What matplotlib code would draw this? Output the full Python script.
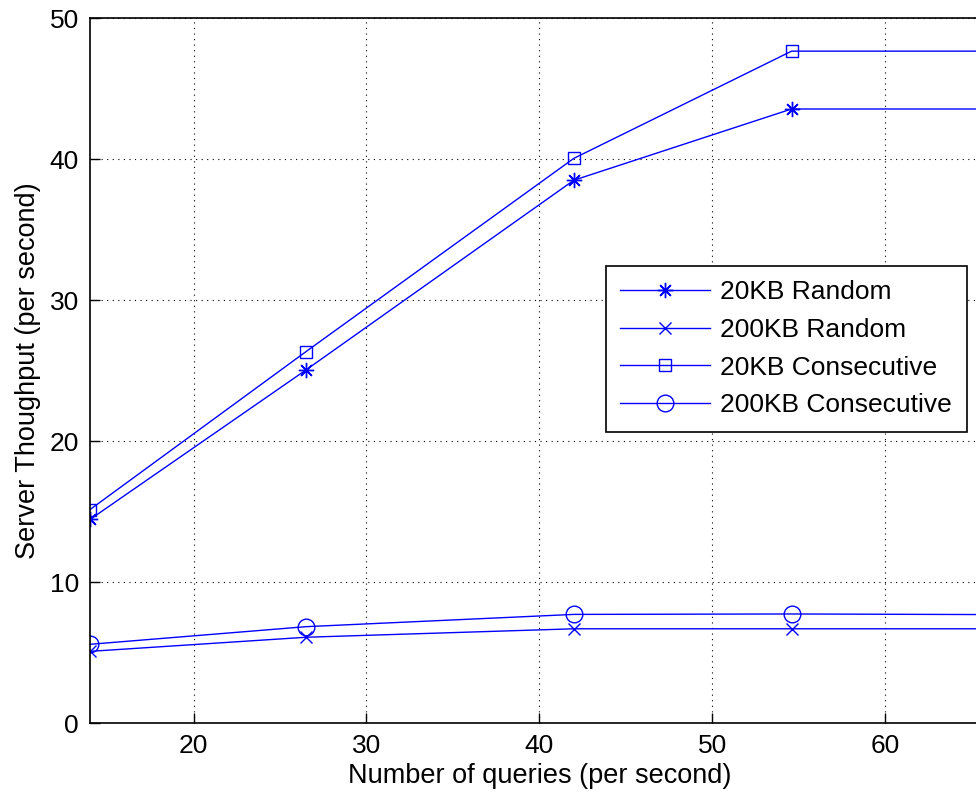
import matplotlib
matplotlib.use("Agg")
import matplotlib.pyplot as plt

plt.rcParams['font.family'] = ['Liberation Sans', 'DejaVu Sans']

# query rate (per second)
queries = [14.0, 26.5, 42.0, 54.6, 68.0]

# server throughput for each workload
random_20kb = [14.45, 25.05, 38.5, 43.55, 43.55]
random_200kb = [5.1, 6.1, 6.7, 6.7, 6.7]
consec_20kb = [15.15, 26.35, 40.05, 47.65, 47.65]
consec_200kb = [5.6, 6.85, 7.72, 7.75, 7.7]

labels = ['20KB Random', '200KB Random', '20KB Consecutive', '200KB Consecutive']

fig = plt.figure(figsize=(9.76, 7.97), dpi=100)
# right edge of the axes runs past the canvas
ax = fig.add_axes([90/976, 73.7/797, 967.7/976, 705.3/797])

blue = (0, 0, 1)
ax.plot(queries, random_20kb, color=blue, lw=1.0, marker=(8, 2, 0), ms=11,
        mew=1.0, label=labels[0])
ax.plot(queries, random_200kb, color=blue, lw=1.0, marker='x', ms=9,
        mew=1.0, label=labels[1])
ax.plot(queries, consec_20kb, color=blue, lw=1.0, marker='s', ms=9,
        mew=1.0, mfc='none', label=labels[2])
ax.plot(queries, consec_200kb, color=blue, lw=1.0, marker='o', ms=12,
        mew=1.0, mfc='none', label=labels[3])

ax.set_xlim(14, 70)
ax.set_ylim(0, 50)
ax.set_xticks([20, 30, 40, 50, 60, 70])
ax.set_xticklabels(['20', '30', '40', '50', '60', ''])
ax.set_yticks([0, 10, 20, 30, 40, 50])
ax.tick_params(direction='in', length=7, width=1, labelsize=19, pad=8)
ax.grid(True, color='black', linestyle=(0, (1, 4)), linewidth=0.8)
for s in ax.spines.values():
    s.set_linewidth(1.2)

ax.set_xlabel('Number of queries (per second)', fontsize=19.5, labelpad=3)
# centre the x label on the visible part of the axis
ax.xaxis.label.set_x((540 - 90) / 967.7)
ax.set_ylabel('Server Thoughput (per second)', fontsize=19.5, labelpad=6)

leg = ax.legend(loc='upper left', bbox_to_anchor=(605.7/976, 1 - 265.7/797),
                bbox_transform=fig.transFigure, fontsize=19, frameon=True,
                fancybox=False, edgecolor='black', framealpha=1,
                handlelength=3.4, handletextpad=0.4, borderpad=0.55,
                labelspacing=0.52, borderaxespad=0)
leg.get_frame().set_linewidth(1.2)

fig.savefig('out.png', dpi=100)
